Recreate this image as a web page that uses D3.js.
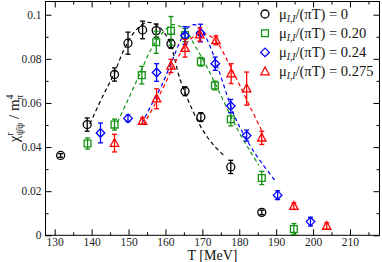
<!DOCTYPE html>
<html>
<head>
<meta charset="utf-8">
<script src="https://cdn.jsdelivr.net/npm/d3@7"></script>
<style>
  body { margin: 0; background: #fff; }
  svg { display: block; font-family: "Liberation Serif", "DejaVu Serif", serif; }
</style>
</head>
<body>
<div id="chart"></div>
<script>
// data: temperature [MeV], chi/m^4, error
const seriesNames = ["0", "0.20", "0.24", "0.275"];
const seriesColors = ["#000000", "#139213", "#0000ff", "#ff0000"];
const seriesShapes = ["circle", "square", "diamond", "triangle"];

const tBlack = [131.6, 138.8, 146.2, 149.85, 153.8, 157.5, 161.5, 165.3, 169.6, 177.7, 186.1];
const vBlack = [0.0362, 0.0502, 0.0729, 0.0871, 0.0931, 0.0928, 0.0868, 0.0653, 0.0536, 0.031, 0.0104];
const eBlack = [0.0008, 0.003, 0.003, 0.005, 0.004, 0.003, 0.002, 0.002, 0.002, 0.003, 0.001];

const tGreen = [138.9, 146.2, 153.6, 157.5, 161.5, 165.3, 169.6, 173.4, 177.7, 186.1, 194.8];
const vGreen = [0.0416, 0.0502, 0.0726, 0.0875, 0.0927, 0.0908, 0.0787, 0.0679, 0.0526, 0.026, 0.0028];
const eGreen = [0.0025, 0.0025, 0.004, 0.005, 0.0065, 0.003, 0.002, 0.002, 0.003, 0.003, 0.0025];

const tBlue = [142.4, 149.85, 157.6, 165.3, 169.5, 173.5, 177.7, 182, 190.4, 199.3];
const vBlue = [0.0464, 0.053, 0.0738, 0.0906, 0.0917, 0.0778, 0.0586, 0.0452, 0.0182, 0.0062];
const eBlue = [0.0045, 0.0015, 0.004, 0.004, 0.004, 0.003, 0.003, 0.0025, 0.002, 0.002];

const tRed = [146.2, 153.8, 157.6, 161.5, 165.3, 169.3, 173.7, 177.8, 182, 186.1, 194.8, 203.7];
const vRed = [0.0418, 0.0518, 0.0619, 0.0768, 0.0848, 0.091, 0.0884, 0.0733, 0.0665, 0.0442, 0.0132, 0.0042];
const eRed = [0.004, 0.0015, 0.0045, 0.003, 0.004, 0.003, 0.002, 0.0045, 0.0075, 0.003, 0.0015, 0.0015];

// dashed fit curves
const fitBlackT = [139.5, 143, 146, 149, 152, 155, 158, 161, 164, 167, 170, 173, 176];
const fitBlackV = [0.0505, 0.063, 0.073, 0.085, 0.093, 0.0965, 0.095, 0.088, 0.0705, 0.058, 0.048, 0.041, 0.036];
const fitGreenT = [147, 150, 153, 156, 159, 162, 165, 168, 171, 174, 177, 180, 183, 185.3];
const fitGreenV = [0.0513, 0.062, 0.073, 0.084, 0.0915, 0.0955, 0.0935, 0.086, 0.077, 0.067, 0.0565, 0.0465, 0.038, 0.0317];
const fitBlueT = [153.6, 156, 159, 162, 164, 166, 168, 170, 172, 174, 176, 178, 180, 183, 186, 190];
const fitBlueV = [0.0506, 0.0585, 0.068, 0.08, 0.088, 0.094, 0.0955, 0.0925, 0.086, 0.077, 0.067, 0.057, 0.0495, 0.0405, 0.033, 0.0242];
const fitRedT = [154, 157, 160, 163, 166, 168, 170, 172, 174, 177, 180, 183, 186.1];
const fitRedV = [0.05, 0.059, 0.069, 0.0795, 0.0875, 0.0905, 0.0915, 0.0905, 0.0875, 0.0785, 0.0685, 0.058, 0.0475];

const xTicks = [130, 140, 150, 160, 170, 180, 190, 200, 210];
const xMinor = [135, 145, 155, 165, 175, 185, 195, 205, 215];
const yTicks = [0, 0.02, 0.04, 0.06, 0.08, 0.1];
const yMinor = [0.01, 0.03, 0.05, 0.07, 0.09];

const points = [
  { t: tBlack, v: vBlack, e: eBlack },
  { t: tGreen, v: vGreen, e: eGreen },
  { t: tBlue, v: vBlue, e: eBlue },
  { t: tRed, v: vRed, e: eRed },
];
const fits = [
  { t: fitBlackT, v: fitBlackV },
  { t: fitGreenT, v: fitGreenV },
  { t: fitBlueT, v: fitBlueV },
  { t: fitRedT, v: fitRedV },
];

const W = 382, H = 262;
const margin = { top: 1.5, right: 2.5, bottom: 26.7, left: 45.5 };

const svg = d3.select("#chart").append("svg").attr("width", W).attr("height", H);

const x = d3.scaleLinear().domain([127.5, 218]).range([margin.left, W - margin.right]);
const y = d3.scaleLinear().domain([0, 0.106]).range([H - margin.bottom, margin.top]);

// axes, ticks pointing inward on all four sides
const fmtY = (d) => (d === 0 ? "0" : d === 0.1 ? "0.1" : d3.format(".2f")(d));

function addAxis(axis, transform) {
  const g = svg.append("g").attr("transform", transform).call(axis);
  g.select(".domain").remove();
  g.selectAll("line").attr("stroke", "#000");
  g.selectAll("text").attr("font-family", "Liberation Serif").attr("font-size", 11.5).attr("fill", "#222");
  return g;
}
const bottomY = H - margin.bottom, rightX = W - margin.right;
addAxis(d3.axisBottom(x).tickValues(xTicks).tickSizeInner(-6).tickSizeOuter(0).tickPadding(3), `translate(0,${bottomY})`);
addAxis(d3.axisBottom(x).tickValues(xMinor).tickSizeInner(-3).tickSizeOuter(0).tickFormat(""), `translate(0,${bottomY})`);
addAxis(d3.axisTop(x).tickValues(xTicks).tickSizeInner(-6).tickSizeOuter(0).tickFormat(""), `translate(0,${margin.top})`);
addAxis(d3.axisTop(x).tickValues(xMinor).tickSizeInner(-3).tickSizeOuter(0).tickFormat(""), `translate(0,${margin.top})`);
addAxis(d3.axisLeft(y).tickValues(yTicks).tickSizeInner(-6).tickSizeOuter(0).tickPadding(4).tickFormat(fmtY), `translate(${margin.left},0)`);
addAxis(d3.axisLeft(y).tickValues(yMinor).tickSizeInner(-3).tickSizeOuter(0).tickFormat(""), `translate(${margin.left},0)`);
addAxis(d3.axisRight(y).tickValues(yTicks).tickSizeInner(-6).tickSizeOuter(0).tickFormat(""), `translate(${rightX},0)`);
addAxis(d3.axisRight(y).tickValues(yMinor).tickSizeInner(-3).tickSizeOuter(0).tickFormat(""), `translate(${rightX},0)`);

// frame
svg.append("rect")
  .attr("x", margin.left).attr("y", margin.top)
  .attr("width", rightX - margin.left).attr("height", bottomY - margin.top)
  .attr("fill", "none").attr("stroke", "#000").attr("stroke-width", 1);

// fit curves
const line = d3.line().x((d) => x(d[0])).y((d) => y(d[1])).curve(d3.curveCatmullRom);
fits.forEach((f, i) => {
  svg.append("path")
    .datum(f.t.map((t, j) => [t, f.v[j]]))
    .attr("fill", "none")
    .attr("stroke", seriesColors[i])
    .attr("stroke-width", 1.2)
    .attr("stroke-dasharray", "4,3")
    .attr("d", line);
});

// marker shapes
function shapePath(shape) {
  if (shape === "square") return "M-3.4,-3.4H3.4V3.4H-3.4Z";
  if (shape === "diamond") return "M0,-4.3L4.3,0L0,4.3L-4.3,0Z";
  if (shape === "triangle") return "M0,-4.6L4.2,3.2L-4.2,3.2Z";
  return null;
}
function drawMarker(g, shape, color, cx, cy) {
  if (shape === "circle") {
    g.append("circle").attr("cx", cx).attr("cy", cy).attr("r", 4)
      .attr("fill", "none").attr("stroke", color).attr("stroke-width", 1.3);
  } else {
    g.append("path").attr("d", shapePath(shape))
      .attr("transform", `translate(${cx},${cy})`)
      .attr("fill", "none").attr("stroke", color).attr("stroke-width", 1.3);
  }
}

// data points with error bars
points.forEach((s, i) => {
  const g = svg.append("g");
  const c = seriesColors[i];
  s.t.forEach((t, j) => {
    const cx = x(t), y0 = y(s.v[j] - s.e[j]), y1 = y(s.v[j] + s.e[j]);
    g.append("line").attr("x1", cx).attr("x2", cx).attr("y1", y0).attr("y2", y1)
      .attr("stroke", c).attr("stroke-width", 1.3);
    [y0, y1].forEach((yy) => {
      g.append("line").attr("x1", cx - 2.5).attr("x2", cx + 2.5).attr("y1", yy).attr("y2", yy)
        .attr("stroke", c).attr("stroke-width", 1.3);
    });
    drawMarker(g, seriesShapes[i], c, cx, y(s.v[j]));
  });
});

// legend
const legend = svg.append("g");
seriesNames.forEach((name, i) => {
  const ly = 14 + i * 19.2;
  drawMarker(legend, seriesShapes[i], seriesColors[i], 265, ly);
  const t = legend.append("text").attr("x", 279).attr("y", ly + 4.5)
    .attr("font-size", 14.5).attr("fill", "#111");
  t.append("tspan").text("μ");
  t.append("tspan").attr("font-size", 9.5).attr("dy", 3).attr("font-style", "italic").text("I,I");
  t.append("tspan").attr("dy", -3).text("/(πT) = " + name);
});

// axis labels
svg.append("text")
  .attr("x", (margin.left + rightX) / 2).attr("y", 259.5)
  .attr("text-anchor", "middle").attr("font-size", 14).attr("fill", "#111")
  .text("T [MeV]");

const yl = svg.append("text")
  .attr("transform", `translate(19,${(margin.top + bottomY) / 2}) rotate(-90)`)
  .attr("text-anchor", "middle").attr("font-size", 15).attr("fill", "#111");
yl.append("tspan").text("χ");
yl.append("tspan").attr("font-size", 10).attr("dy", -6).text("r");
yl.append("tspan").attr("font-size", 10).attr("dy", 9.5).attr("dx", -3).text("ψ\u0304ψ");
yl.append("tspan").attr("dy", -3.5).text(" / m");
yl.append("tspan").attr("font-size", 10).attr("dy", -6.5).text("4");
yl.append("tspan").attr("font-size", 10).attr("dy", 10).attr("dx", -5.5).text("π");
</script>
</body>
</html>
